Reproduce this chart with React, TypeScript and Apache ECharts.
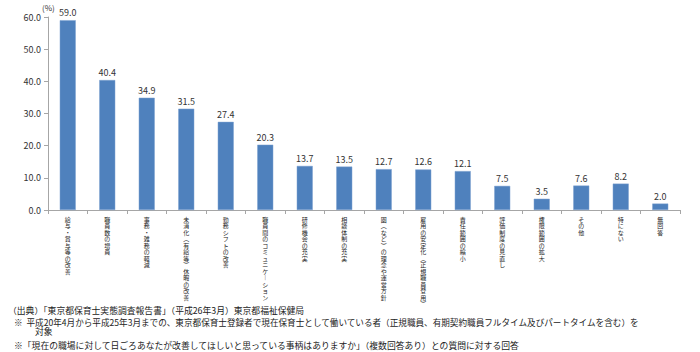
import React, { useEffect, useRef } from "react";
import * as echarts from "echarts";

const categories = [
  "給与・賞与等の改善",
  "職員数の増員",
  "事務・雑務の軽減",
  "未消化︵有給等︶休暇の改善",
  "勤務シフトの改善",
  "職員間のコミュニケ︱ション",
  "研修機会の充実",
  "相談体制の充実",
  "園︵など︶の理念や運営方針",
  "雇用の安定化︵正規職員登用︶",
  "責任範囲の縮小",
  "評価制度の見直し",
  "権限範囲の拡大",
  "その他",
  "特にない",
  "無回答",
];

const values = [59.0, 40.4, 34.9, 31.5, 27.4, 20.3, 13.7, 13.5, 12.7, 12.6, 12.1, 7.5, 3.5, 7.6, 8.2, 2.0];

const notes = [
  "（出典）「東京都保育士実態調査報告書」（平成26年3月）東京都福祉保健局",
  "※  平成20年4月から平成25年3月までの、東京都保育士登録者で現在保育士として働いている者（正規職員、有期契約職員フルタイム及びパートタイムを含む）を",
  "対象",
  "※「現在の職場に対して日ごろあなたが改善してほしいと思っている事柄はありますか」（複数回答あり）との質問に対する回答",
];

const FONT = "'Noto Sans CJK JP', 'Noto Sans', sans-serif";

export default function App() {
  const ref = useRef<HTMLDivElement>(null);
  useEffect(() => {
    if (!ref.current) return;
    const chart = echarts.init(ref.current, undefined, { renderer: "svg" });
    const note = (i: number, x: number, y: number, size: number) => ({
      type: "text",
      x,
      y,
      style: { text: notes[i], fontSize: size, fill: "#222", fontFamily: FONT, verticalAlign: "middle" },
    });
    chart.setOption({
      animation: false,
      textStyle: { fontFamily: FONT },
      grid: { left: 48, right: 20, top: 17, bottom: 142, containLabel: false },
      xAxis: {
        type: "category",
        data: categories,
        axisLine: { lineStyle: { color: "#a6a6a6" } },
        axisTick: { show: true, length: 4, lineStyle: { color: "#a6a6a6" } },
        axisLabel: {
          interval: 0,
          margin: 6,
          fontSize: 6,
          lineHeight: 6.5,
          color: "#222",
          fontFamily: FONT,
          formatter: (v: string) => Array.from(v).join("\n"),
        },
      },
      yAxis: {
        type: "value",
        min: 0,
        max: 60,
        interval: 10,
        axisLine: { show: true, lineStyle: { color: "#a6a6a6" } },
        axisTick: { show: true, length: 4, inside: false, lineStyle: { color: "#a6a6a6" } },
        splitLine: { show: false },
        axisLabel: {
          fontSize: 9,
          color: "#333",
          margin: 7,
          fontFamily: FONT,
          formatter: (v: number) => v.toFixed(1),
        },
      },
      series: [
        {
          type: "bar",
          data: values,
          barWidth: 16,
          itemStyle: { color: "#4F81BD", borderColor: "#7fa3d1", borderWidth: 0.5 },
          label: {
            show: true,
            position: "top",
            distance: 3,
            fontSize: 9,
            color: "#333",
            fontFamily: FONT,
            formatter: (p: any) => Number(p.value).toFixed(1),
          },
        },
      ],
      graphic: [
        { type: "text", x: 42, y: 7, style: { text: "(%)", fontSize: 8, fill: "#333", fontFamily: FONT, verticalAlign: "middle" } },
        note(0, 8, 310, 8.8),
        note(1, 14, 322, 8.6),
        note(2, 35, 331, 8.8),
        note(3, 14, 345, 8.8),
      ],
    });
    return () => chart.dispose();
  }, []);
  return <div ref={ref} style={{ position: "absolute", left: 0, top: 0, width: 700, height: 352 }} />;
}
